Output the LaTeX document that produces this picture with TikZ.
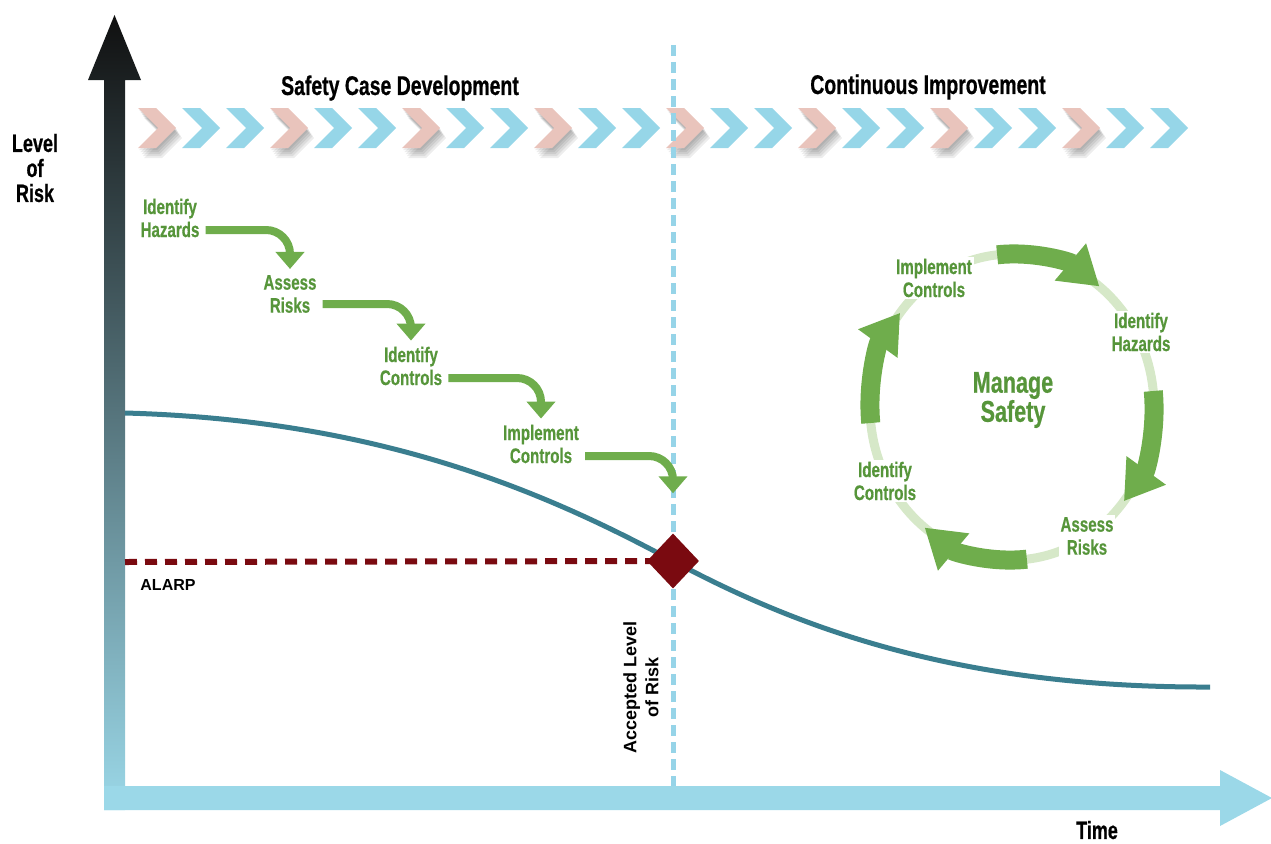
\documentclass[tikz,border=0pt]{standalone}
\usepackage{fontspec}
\setmainfont{Liberation Sans}
\newfontfamily\condfont{Liberation Sans}[FakeStretch=0.72, FakeBold=0.6]
\usetikzlibrary{arrows.meta,calc,shapes.geometric}

\definecolor{axisblue}{HTML}{9BD8E8}
\definecolor{axistop}{HTML}{101010}
\definecolor{dashblue}{HTML}{96D4E8}
\definecolor{riskteal}{HTML}{3A7E8F}
\definecolor{alarpred}{HTML}{7A0A10}
\definecolor{arrowgreen}{HTML}{6FAD4C}
\definecolor{txtgreen}{HTML}{56953A}
\definecolor{ringgreen}{HTML}{D6E8C8}
\definecolor{chevpink}{HTML}{E9C4BC}
\definecolor{chevblue}{HTML}{96D6E8}

\begin{document}
\begin{tikzpicture}[x=1pt,y=-1pt,
  headline/.style={font=\condfont\bfseries\fontsize{27}{28}\selectfont, text=black, inner sep=0},
  axislbl/.style={font=\condfont\bfseries\fontsize{25}{25}\selectfont, text=black, align=center, inner sep=0},
  plainlbl/.style={font=\bfseries\fontsize{18}{22}\selectfont, text=black, align=center, inner sep=0},
  steplbl/.style={font=\condfont\bfseries\fontsize{21}{23}\selectfont, text=txtgreen, align=center, inner sep=0},
  cyclbl/.style={steplbl, fill=white, inner sep=2pt},
  steparrow/.style={draw=arrowgreen, line width=8pt, rounded corners=24pt,
    -{Triangle[width=28pt,length=17pt]}},
  cycarrow/.style={draw=arrowgreen, line width=19pt,
    -{Triangle[width=46pt,length=38pt]}},
  riskline/.style={draw=riskteal, line width=5pt},
  alarpdash/.style={draw=alarpred, line width=6pt, dash pattern=on 12pt off 8pt},
  accdash/.style={draw=dashblue, line width=5pt, dash pattern=on 11pt off 6pt},
]
\useasboundingbox (0,0) rectangle (1271,843);

% ---- phase chevrons: shadows under the pink ones, then the chevrons
\foreach \i in {0,...,23}{
  \pgfmathsetmacro\cx{138+44*\i}
  \pgfmathtruncatemacro\cm{mod(\i,3)}
  \ifnum\cm=0
    \foreach \d in {2,4,6,8,10}{
      \fill[black,opacity=0.07] (\cx+0.6*\d,108+\d) -- ++(18,0) -- ++(20,20)
        -- ++(-20,20) -- ++(-18,0) -- ++(20,-20) -- cycle;
    }
  \fi
}
\foreach \i in {0,...,23}{
  \pgfmathsetmacro\cx{138+44*\i}
  \pgfmathtruncatemacro\cm{mod(\i,3)}
  \ifnum\cm=0 \def\cc{chevpink}\else \def\cc{chevblue}\fi
  \fill[\cc] (\cx,108) -- ++(18,0) -- ++(20,20) -- ++(-20,20) -- ++(-18,0)
    -- ++(20,-20) -- cycle;
}

\node[headline] (scd) at (400,88) {Safety Case Development};
\node[headline] (ci) at (928,87) {Continuous Improvement};

% ---- accepted-level marker line
\draw[accdash] (673,45) -- (673,786);

% ---- axes
\shade[top color=axistop, bottom color=axisblue]
  (104,810) -- (104,80) -- (88,80) -- (114.5,15) -- (141,80) -- (125,80)
  -- (125,810) -- cycle;
\fill[axisblue] (104,786) -- (1220,786) -- (1220,770) -- (1272,798)
  -- (1220,826) -- (1220,810) -- (104,810) -- cycle;

\node[axislbl] (lor) at (35,168) {Level\\of\\Risk};
\node[axislbl] (time) at (1097,830) {Time};

% ---- ALARP line, risk curve and accepted point
\coordinate (acc) at (673,561);
\coordinate (alarp0) at (125,562);
\draw[alarpdash] (alarp0) -- (acc);
\draw[riskline] (125,413) .. controls (380,420) and (545,492) .. (acc)
  .. controls (800,629) and (960,688) .. (1210,687);
\node[diamond, fill=alarpred, minimum width=52pt, minimum height=55pt,
  inner sep=0] (dia) at (acc) {};

\node[plainlbl, font=\bfseries\fontsize{16}{18}\selectfont] (alarp) at (168,585) {ALARP};
\node[plainlbl, rotate=90] (acclbl) at (641,687) {Accepted Level\\of Risk};

% ---- safety case development steps
\node[steplbl] (n1) at (170,218) {Identify\\Hazards};
\node[steplbl] (n2) at (290,294) {Assess\\Risks};
\node[steplbl] (n3) at (411,366) {Identify\\Controls};
\node[steplbl] (n4) at (541,444) {Implement\\Controls};

\draw[steparrow] ($(n1.east)+(6,12)$) -| ($(n2.north)+(0,-6)$);
\draw[steparrow] ($(n2.east)+(6,10)$) -| ($(n3.north)+(0,-6)$);
\draw[steparrow] ($(n3.east)+(6,12)$) -| ($(n4.north)+(0,-6)$);
\draw[steparrow] ($(n4.east)+(6,12)$) -| ($(dia.north)+(0,-40)$);

% ---- continuous improvement cycle
\coordinate (ctr) at (1012,407);
\draw[ringgreen, line width=9pt] (ctr) ellipse[x radius=142, y radius=153];

\node[steplbl, font=\condfont\bfseries\fontsize{30}{27}\selectfont] (ms) at (1013,400) {Manage\\Safety};
\node[cyclbl] (c1) at (1141,332) {Identify\\Hazards};
\node[cyclbl] (c2) at (1087,536) {Assess\\Risks};
\node[cyclbl] (c3) at (885,481) {Identify\\Controls};
\node[cyclbl] (c4) at (934,278) {Implement\\Controls};

\foreach \a in {-96,-6,84,174}{
  \pgfmathsetmacro\b{\a+44}
  \draw[cycarrow] ([shift={(\a:142 and 153)}]ctr)
    arc[start angle=\a, end angle=\b, x radius=142, y radius=153];
}
\end{tikzpicture}
\end{document}
